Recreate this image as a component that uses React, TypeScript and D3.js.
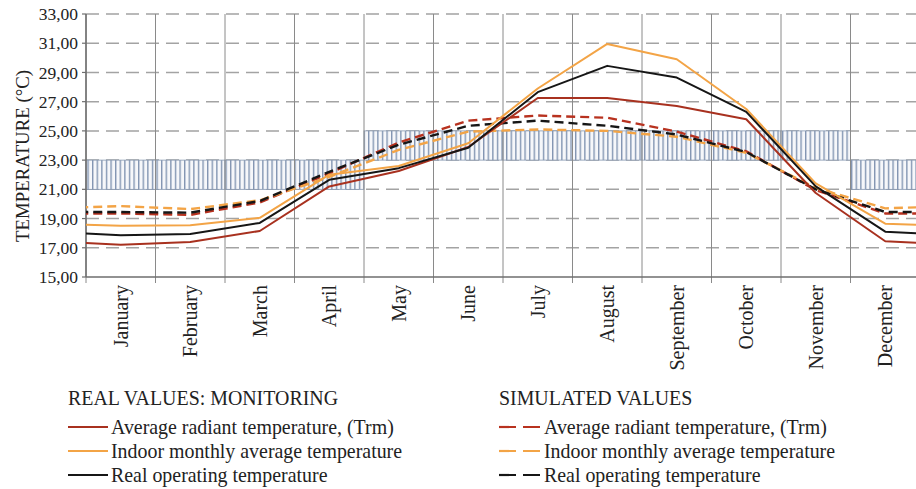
import React from "react";
import * as d3 from "d3";

const months = [
  "January", "February", "March", "April", "May", "June",
  "July", "August", "September", "October", "November", "December",
];

// comfort band per month (lower / upper limit, °C)
const comfortLow = [21, 21, 21, 21, 23, 23, 23, 23, 23, 23, 23, 21];
const comfortHigh = [23, 23, 23, 23, 25, 25, 25, 25, 25, 25, 25, 23];

// real values: monitoring
const realTrm = [17.2, 17.4, 18.15, 21.2, 22.25, 23.9, 27.25, 27.25, 26.7, 25.8, 20.75, 17.45];
const realIndoor = [18.5, 18.55, 19.05, 22.0, 22.6, 24.15, 27.9, 30.95, 29.9, 26.5, 21.4, 18.65];
const realOperating = [17.85, 17.95, 18.7, 21.65, 22.45, 23.85, 27.65, 29.45, 28.65, 26.3, 21.2, 18.1];

// simulated values
const simTrm = [19.35, 19.25, 20.1, 22.1, 24.2, 25.7, 26.05, 25.9, 24.95, 23.6, 20.95, 19.35];
const simIndoor = [19.85, 19.65, 20.25, 21.85, 23.7, 24.95, 25.1, 25.0, 24.6, 23.5, 21.1, 19.7];
const simOperating = [19.45, 19.4, 20.2, 22.2, 24.05, 25.35, 25.7, 25.35, 24.75, 23.55, 21.0, 19.45];

const yTicks = [15, 17, 19, 21, 23, 25, 27, 29, 31, 33];

const RED = "#a8311f";
const RED_DASH = "#b8321f";
const ORANGE = "#f3a446";
const BLACK = "#161616";

const realSeries = [
  { label: "Average radiant temperature, (Trm)", values: realTrm, color: RED },
  { label: "Indoor monthly average temperature", values: realIndoor, color: ORANGE },
  { label: "Real operating temperature", values: realOperating, color: BLACK },
];
const simSeries = [
  { label: "Average radiant temperature, (Trm)", values: simTrm, color: RED_DASH },
  { label: "Indoor monthly average temperature", values: simIndoor, color: ORANGE },
  { label: "Real operating temperature", values: simOperating, color: BLACK },
];

const W = 916;
const H = 489;
const left = 86;
const right = 920;
const top = 14;
const bottom = 277;
const font = "'Liberation Serif', 'Times New Roman', serif";

const App: React.FC = () => {
  const x = d3.scaleBand<string>().domain(months).range([left, right]);
  const y = d3.scaleLinear().domain([15, 33]).range([bottom, top]);
  const bw = x.bandwidth();
  const cx = (i: number) => (x(months[i]) ?? 0) + bw / 2;
  const fmt = (v: number) => d3.format(".2f")(v).replace(".", ",");

  // the year wraps: December before January, January after December
  const linePath = (vals: number[]) => {
    const n = vals.length;
    const pts: [number, number][] = [[cx(0) - bw, vals[n - 1]]];
    vals.forEach((v, i) => pts.push([cx(i), v]));
    pts.push([cx(n - 1) + bw, vals[0]]);
    return d3.line<[number, number]>().x((d) => d[0]).y((d) => y(d[1]))(pts) ?? "";
  };

  const legendRows = [427, 451, 475];
  const lf = 19.9;

  return (
    <svg width={W} height={H} style={{ position: "absolute", left: 0, top: 0, background: "#fff" }}>
      <defs>
        <clipPath id="plot">
          <rect x={left} y={0} width={right - left} height={bottom + 2} />
        </clipPath>
        <pattern id="hatch" patternUnits="userSpaceOnUse" width={4.6} height={10}>
          <rect width={4.6} height={10} fill="#f6f7fa" />
          <line x1={0.7} y1={0} x2={0.7} y2={10} stroke="#7b8fad" strokeWidth={1.3} />
        </pattern>
      </defs>

      {/* horizontal dashed grid */}
      {yTicks.filter((t) => t > 15).map((t) => (
        <line key={"h" + t} x1={left} x2={right} y1={y(t)} y2={y(t)}
          stroke="#a3a3a3" strokeWidth={1.5} strokeDasharray="13,7" />
      ))}

      {/* comfort band */}
      {months.map((m, i) => (
        <rect key={"b" + m} x={x(m)} y={y(comfortHigh[i])} width={bw}
          height={y(comfortLow[i]) - y(comfortHigh[i])}
          fill="url(#hatch)" stroke="#8597b0" strokeWidth={0.8} />
      ))}

      {/* vertical grid + ticks */}
      {months.map((m) => (
        <line key={"v" + m} x1={x(m)} x2={x(m)} y1={top} y2={bottom + 6}
          stroke="#8a8a8a" strokeWidth={1} />
      ))}
      <line x1={right - 0.5} x2={right - 0.5} y1={top} y2={bottom + 6} stroke="#8a8a8a" />

      {/* axes */}
      <line x1={left} x2={right} y1={bottom} y2={bottom} stroke="#6e6e6e" strokeWidth={1.5} />
      <line x1={left} x2={left} y1={top} y2={bottom} stroke="#6e6e6e" strokeWidth={1.5} />
      {yTicks.map((t) => (
        <g key={"yt" + t}>
          <line x1={left - 4} x2={left} y1={y(t)} y2={y(t)} stroke="#6e6e6e" strokeWidth={1.2} />
          <text x={left - 8} y={y(t)} dy="0.35em" textAnchor="end" fontFamily={font}
            fontSize={17.5} fill="#222">{fmt(t)}</text>
        </g>
      ))}

      {/* y title */}
      <text transform={`translate(29,156) rotate(-90)`} textAnchor="middle"
        fontFamily={font} fontSize={18.8} fill="#222">TEMPERATURE (°C)</text>

      {/* month labels */}
      {months.map((m, i) => (
        <text key={"ml" + m} transform={`translate(${cx(i) + 7},${bottom + 8}) rotate(-90)`}
          textAnchor="end" fontFamily={font} fontSize={20} fill="#222">{m}</text>
      ))}

      {/* series */}
      <g clipPath="url(#plot)" fill="none" strokeLinejoin="round">
        {simSeries.map((s) => (
          <path key={"s" + s.label} d={linePath(s.values)} stroke={s.color}
            strokeWidth={2.4} strokeDasharray="9,5" />
        ))}
        {realSeries.map((s) => (
          <path key={"r" + s.label} d={linePath(s.values)} stroke={s.color} strokeWidth={2} />
        ))}
      </g>

      {/* legend */}
      <text x={68} y={398} dy="0.35em" fontFamily={font} fontSize={lf} fill="#222">REAL VALUES: MONITORING</text>
      <text x={499} y={398} dy="0.35em" fontFamily={font} fontSize={lf} fill="#222">SIMULATED VALUES</text>
      {realSeries.map((s, i) => (
        <g key={"lr" + i}>
          <line x1={68} x2={108} y1={legendRows[i]} y2={legendRows[i]} stroke={s.color} strokeWidth={2} />
          <text x={111} y={legendRows[i]} dy="0.35em" fontFamily={font} fontSize={lf} fill="#222">{s.label}</text>
        </g>
      ))}
      {simSeries.map((s, i) => (
        <g key={"ls" + i}>
          <line x1={499} x2={541} y1={legendRows[i]} y2={legendRows[i]} stroke={s.color}
            strokeWidth={2.2} strokeDasharray="17,7" />
          <text x={544} y={legendRows[i]} dy="0.35em" fontFamily={font} fontSize={lf} fill="#222">{s.label}</text>
        </g>
      ))}
    </svg>
  );
};

export default App;
